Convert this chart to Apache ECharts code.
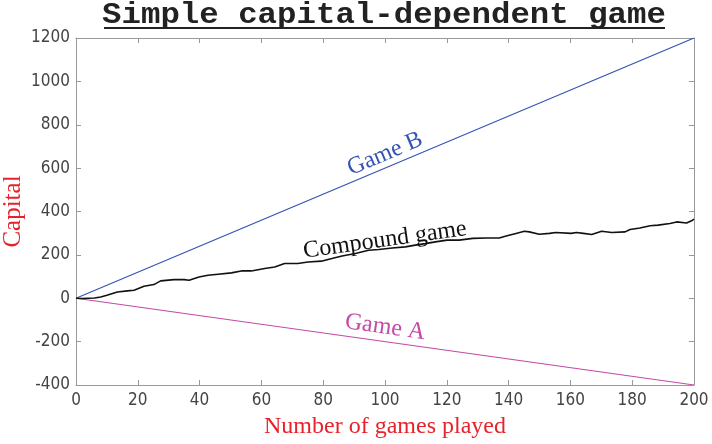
<!DOCTYPE html>
<html>
<head>
<meta charset="utf-8">
<script src="https://cdn.jsdelivr.net/npm/echarts@6/dist/echarts.min.js"></script>
<style>
  html, body { margin: 0; padding: 0; background: #fff; }
  #chart { width: 712px; height: 444px; }
</style>
</head>
<body>
<div id="chart"></div>
<script>
// x range and ticks
const xTicks = [0, 20, 40, 60, 80, 100, 120, 140, 160, 180, 200];
const yTicks = [-400, -200, 0, 200, 400, 600, 800, 1000, 1200];

// straight games: [games played, capital]
const gameB = [[0, 0], [200, 1200]];
const gameA = [[0, 0], [200, -400]];

// compound game
const compoundX = [0, 2, 6, 8, 10, 13.4, 16.6, 18.8, 22, 25.2, 27.4, 31.7, 35, 36.6, 39.8,
  42.7, 46, 50.3, 53.5, 56.7, 61.1, 64.3, 67.5, 71.8, 75.1, 79.4, 82.8, 86.1, 90.4, 94.7,
  98, 102.3, 106.6, 109.8, 113, 116.3, 120.1, 124, 128.4, 132.7, 137, 139.2, 142.4, 145.1,
  146.7, 149.9, 153.2, 155.3, 160.2, 162, 164.2, 166.9, 170.1, 173.4, 177.7, 179.3, 182.5,
  185.8, 188.4, 192.2, 194.4, 197.6, 199.2, 200];
const compoundY = [0, -1, 1, 6, 14, 29, 34, 37, 55, 63, 80, 86, 86, 83, 98,
  106, 111, 117, 126, 126, 137, 144, 160, 160, 167, 171, 183, 195, 206, 221,
  225, 232, 237, 245, 252, 260, 268, 268, 276, 278, 278, 287, 299, 309,
  306, 295, 299, 303, 299, 303, 299, 294, 309, 303, 306, 317, 324,
  334, 337, 345, 352, 347, 357, 365];

// text labels: [x, y, angle in degrees]
const labelGameB = [100, 665, 23];
const labelCompound = [100, 268, 8];
const labelGameA = [100, -134, -8];

const chart = echarts.init(document.getElementById("chart"));

const axisGray = "#999";
const tickFont = {
  color: "#444",
  fontSize: 17,
  fontFamily: "Liberation Sans Narrow, DejaVu Sans Condensed, sans-serif",
  formatter: (v) => String(v),
};

function boxAxis(extra) {
  return Object.assign({
    type: "value",
    axisLine: { show: true, onZero: false, lineStyle: { color: axisGray, width: 1 } },
    axisTick: { show: true, inside: true, length: 5, lineStyle: { color: axisGray } },
    splitLine: { show: false },
    nameMoveOverlap: false,
  }, extra);
}

const option = {
  animation: false,
  grid: { left: 76, right: 18, top: 38, bottom: 59, containLabel: false, outerBoundsMode: "none" },
  xAxis: [
    boxAxis({
      min: 0, max: 200, interval: 20,
      position: "bottom",
      axisLabel: Object.assign({ margin: 7 }, tickFont),
      name: "Number of games played",
      nameLocation: "middle",
      nameGap: 30,
      nameTextStyle: { color: "#e8222a", fontSize: 24, fontFamily: "Liberation Serif, serif" },
    }),
    boxAxis({ min: 0, max: 200, interval: 20, position: "top", axisLabel: { show: false } }),
  ],
  yAxis: [
    boxAxis({
      min: -400, max: 1200, interval: 200,
      position: "left",
      axisLabel: Object.assign({ margin: 6 }, tickFont),
      name: "Capital",
      nameLocation: "middle",
      nameGap: 50,
      nameTextStyle: { color: "#e8222a", fontSize: 25, fontFamily: "Liberation Serif, serif" },
    }),
    boxAxis({ min: -400, max: 1200, interval: 200, position: "right", axisLabel: { show: false } }),
  ],
  series: [
    {
      name: "Game B", type: "line", data: gameB, symbol: "none",
      lineStyle: { color: "#3553b3", width: 1.2 },
    },
    {
      name: "Game A", type: "line", data: gameA, symbol: "none",
      lineStyle: { color: "#c24aa8", width: 1.2 },
    },
    {
      name: "Compound game", type: "line", symbol: "none",
      data: compoundX.map((x, i) => [x, compoundY[i]]),
      lineStyle: { color: "#111", width: 1.6 },
    },
  ],
};
chart.setOption(option);

// rotated line labels, anchored in data coordinates
function textAt(label, text, color) {
  const p = chart.convertToPixel({ xAxisIndex: 0, yAxisIndex: 0 }, [label[0], label[1]]);
  return {
    type: "text",
    x: p[0], y: p[1],
    rotation: label[2] * Math.PI / 180,
    style: {
      text: text,
      fill: color,
      fontSize: 24,
      fontFamily: "Liberation Serif, serif",
      align: "center",
      verticalAlign: "middle",
    },
  };
}

// title drawn as graphic so it can be stretched and underlined like the original
chart.setOption({
  graphic: [
    {
      type: "text",
      x: 384, y: 15,
      scaleX: 1.08,
      style: {
        text: "Simple capital-dependent game",
        fill: "#222",
        fontSize: 30,
        fontWeight: "bold",
        fontFamily: "Liberation Mono, DejaVu Sans Mono, monospace",
        align: "center",
        verticalAlign: "middle",
      },
    },
    {
      type: "line",
      shape: { x1: 104, y1: 28, x2: 665, y2: 28 },
      style: { stroke: "#222", lineWidth: 2 },
    },
    textAt(labelGameB, "Game B", "#3553b3"),
    textAt(labelCompound, "Compound game", "#111"),
    textAt(labelGameA, "Game A", "#c24aa8"),
  ],
});
</script>
</body>
</html>
